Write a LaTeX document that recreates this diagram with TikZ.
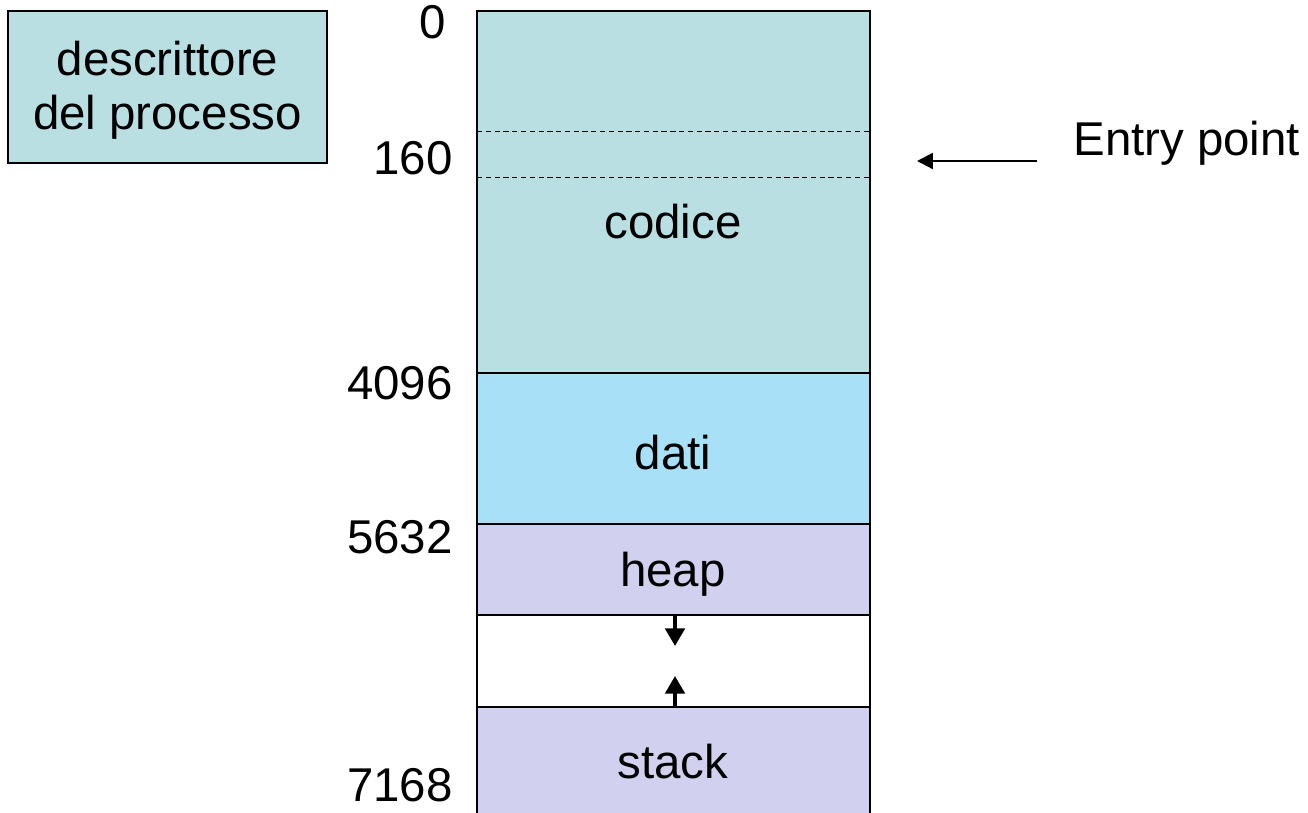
\documentclass[tikz,border=0pt]{standalone}
\usepackage{fontspec}
\setmainfont{Liberation Sans}
\usetikzlibrary{arrows.meta}
\usetikzlibrary{positioning}

\definecolor{codicecol}{HTML}{BADFE2}
\definecolor{daticol}{HTML}{A7E0F7}
\definecolor{heapcol}{HTML}{D1D1EF}

\tikzset{
  region/.style={draw=black, line width=1pt},
  addr/.style={anchor=east, inner sep=0pt},
  growarrow/.style={line width=2.2pt, -{Triangle[length=10pt,width=11pt]}},
  entryarrow/.style={line width=1.3pt, -{Triangle[length=9pt,width=9pt]}},
  sep/.style={dashed, line width=0.5pt, dash pattern=on 3pt off 2pt}
}

\begin{document}
\begin{tikzpicture}[x=0.02cm, y=-0.02cm, font=\fontsize{27}{31}\selectfont]
    \useasboundingbox (0, 0) rectangle (1308, 812);

    % descrittore
    \draw [region, fill=codicecol] (8, 11) rectangle (327, 163);
    \node [align=center] (descr) at (167.5, 90) {descrittore\\del processo};

    % memoria del processo
    \draw [region, fill=codicecol] (477, 11) rectangle (870, 373);
    \draw [region, fill=daticol] (477, 373) rectangle (870, 524);
    \draw [region, fill=heapcol] (477, 524) rectangle (870, 615);
    \draw [region, fill=white] (477, 615) rectangle (870, 707);
    \draw [region, fill=heapcol] (477, 707) rectangle (870, 840);
    \draw [sep] (477, 131) -- (870, 131);
    \draw [sep] (477, 177) -- (870, 177);

    \node (codice) at (673, 222) {codice};
    \node (dati) at (673, 453) {dati};
    \node (heap) at (673, 574) {heap};
    \node (stack) at (673, 762) {stack};

    % indirizzi
    \node [addr] (a0) at (446, 22) {0};
    \node [addr] (a160) at (453, 158) {160};
    \node [addr] (a4096) at (453, 383) {4096};
    \node [addr] (a5632) at (453, 537) {5632};
    \node [addr] (a7168) at (453, 785) {7168};

    % crescita heap e stack
    \coordinate (heapend) at (675, 615);
    \coordinate (stackend) at (675, 707);
    \draw [growarrow] (heapend) -- ++(0, 31);
    \draw [growarrow] (stackend) -- ++(0, -31);

    % entry point
    \node [anchor=west, inner sep=0pt] (entry) at (1073, 143) {Entry point};
    \coordinate (entrytail) at (1037, 161);
    \coordinate (entryhead) at (917, 161);
    \draw [entryarrow] (entrytail) -- (entryhead);
  \end{tikzpicture}
\end{document}
